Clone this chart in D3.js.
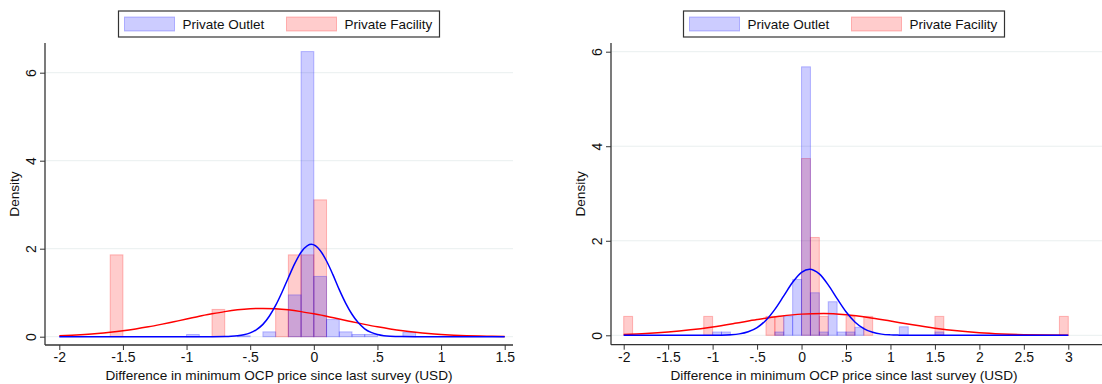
<!DOCTYPE html>
<html>
<head>
<meta charset="utf-8">
<script src="https://cdn.jsdelivr.net/npm/d3@7"></script>
<style>
  body { margin: 0; background: #fff; }
  svg { display: block; font-family: "Liberation Sans", Arial, sans-serif; }
</style>
</head>
<body>
<svg id="chart" width="1102" height="384"></svg>
<script>
// Histograms (bin start, density) with normal overlays, two survey rounds

const binWidth = 0.1;
const seriesNames = ["Private Outlet", "Private Facility"];

// left panel
const leftOutletBins = [[-1.0, 0.05], [-0.6, 0.02], [-0.4, 0.11], [-0.2, 0.95], [-0.1, 6.48],
  [0.0, 1.37], [0.1, 0.39], [0.2, 0.11], [0.3, 0.05], [0.4, 0.05], [0.7, 0.10]];
const leftFacilityBins = [[-1.6, 1.86], [-0.8, 0.62], [-0.3, 0.62], [-0.2, 1.86], [-0.1, 1.86], [0.0, 3.11]];

const leftOutletCurve = [[-2, 0], [-1, 0], [-0.8, 0.001], [-0.7, 0.004], [-0.65, 0.009], [-0.6, 0.02],
  [-0.55, 0.043], [-0.5, 0.086], [-0.45, 0.162], [-0.4, 0.28], [-0.35, 0.465], [-0.3, 0.71],
  [-0.25, 1.01], [-0.2, 1.34], [-0.15, 1.66], [-0.1, 1.92], [-0.05, 2.07], [-0.02, 2.10],
  [0.05, 1.96], [0.1, 1.72], [0.15, 1.41], [0.2, 1.07], [0.25, 0.765], [0.3, 0.51],
  [0.35, 0.315], [0.4, 0.18], [0.45, 0.098], [0.5, 0.05], [0.55, 0.023], [0.6, 0.01],
  [0.7, 0.002], [0.8, 0], [1.5, 0]];
const leftFacilityCurve = [[-2.0, 0.023], [-1.9, 0.034], [-1.8, 0.050], [-1.7, 0.071], [-1.6, 0.099],
  [-1.5, 0.133], [-1.4, 0.175], [-1.3, 0.224], [-1.2, 0.28], [-1.1, 0.34], [-1.0, 0.40],
  [-0.9, 0.465], [-0.8, 0.52], [-0.7, 0.57], [-0.6, 0.61], [-0.5, 0.635], [-0.4, 0.643],
  [-0.3, 0.635], [-0.2, 0.61], [-0.1, 0.57], [0.0, 0.52], [0.1, 0.465], [0.2, 0.40],
  [0.3, 0.34], [0.4, 0.28], [0.5, 0.224], [0.6, 0.175], [0.7, 0.133], [0.8, 0.099],
  [0.9, 0.071], [1.0, 0.050], [1.1, 0.034], [1.2, 0.023], [1.3, 0.015], [1.4, 0.009], [1.5, 0.006]];

const leftXTicks = [-2, -1.5, -1, -0.5, 0, 0.5, 1, 1.5];
const leftXLabels = ["-2", "-1.5", "-1", "-.5", "0", ".5", "1", "1.5"];

// right panel
const rightOutletBins = [[-1.0, 0.07], [-0.9, 0.07], [-0.3, 0.07], [-0.2, 0.41], [-0.1, 1.18],
  [0.0, 5.68], [0.1, 0.90], [0.2, 0.07], [0.3, 0.71], [0.4, 0.07], [0.5, 0.07], [0.6, 0.17],
  [1.1, 0.18], [1.5, 0.07]];
const rightFacilityBins = [[-2.0, 0.40], [-1.1, 0.40], [-0.4, 0.40], [-0.3, 0.40], [0.0, 3.74],
  [0.1, 2.07], [0.2, 0.40], [0.5, 0.40], [0.7, 0.40], [1.5, 0.40], [2.9, 0.40]];

const rightOutletCurve = [[-2, 0], [-1.1, 0], [-1.0, 0.001], [-0.9, 0.003], [-0.8, 0.011], [-0.7, 0.030],
  [-0.6, 0.075], [-0.5, 0.164], [-0.4, 0.319], [-0.3, 0.549], [-0.2, 0.834], [-0.1, 1.121],
  [0.0, 1.332], [0.09, 1.40], [0.2, 1.299], [0.3, 1.067], [0.4, 0.775], [0.5, 0.497],
  [0.6, 0.283], [0.7, 0.142], [0.8, 0.063], [0.9, 0.025], [1.0, 0.009], [1.1, 0.003],
  [1.2, 0], [3, 0]];
const rightFacilityCurve = [[-2.0, 0.019], [-1.75, 0.037], [-1.5, 0.068], [-1.25, 0.115], [-1.0, 0.178],
  [-0.75, 0.253], [-0.5, 0.333], [-0.25, 0.402], [0.0, 0.448], [0.25, 0.459], [0.5, 0.433],
  [0.75, 0.377], [1.0, 0.301], [1.25, 0.222], [1.5, 0.151], [1.75, 0.094], [2.0, 0.054],
  [2.25, 0.029], [2.5, 0.014], [2.75, 0.006], [3.0, 0.003]];

const rightXTicks = [-2, -1.5, -1, -0.5, 0, 0.5, 1, 1.5, 2, 2.5, 3];
const rightXLabels = ["-2", "-1.5", "-1", "-.5", "0", ".5", "1", "1.5", "2", "2.5", "3"];

const yTicks = [0, 2, 4, 6];
const yLabels = ["0", "2", "4", "6"];

const xTitle = "Difference in minimum OCP price since last survey (USD)";
const yTitle = "Density";

const blue = "#0000ff", red = "#ff0000";

const svg = d3.select("#chart");

function drawPanel(p) {
  const g = svg.append("g");
  const x = d3.scaleLinear().domain(p.xDomain).range(p.xRange);
  const y = d3.scaleLinear().domain([0, 6]).range(p.yRange);

  // gridlines
  g.append("g").selectAll("line")
    .data(yTicks)
    .join("line")
    .attr("x1", p.left).attr("x2", p.right)
    .attr("y1", d => y(d)).attr("y2", d => y(d))
    .attr("stroke", "#e9efef")
    .attr("stroke-width", 1);

  // bars: facility first, outlet over it
  const bars = (data, color) => g.append("g").selectAll("rect")
    .data(data)
    .join("rect")
    .attr("x", d => x(d[0]))
    .attr("width", d => x(d[0] + binWidth) - x(d[0]))
    .attr("y", d => y(d[1]))
    .attr("height", d => y(0) - y(d[1]))
    .attr("fill", color)
    .attr("fill-opacity", 0.2)
    .attr("stroke", color)
    .attr("stroke-opacity", 0.25)
    .attr("stroke-width", 1);

  bars(p.facilityBins, red);
  bars(p.outletBins, blue);

  const line = d3.line()
    .x(d => x(d[0]))
    .y(d => y(d[1]))
    .curve(d3.curveMonotoneX);

  g.append("path").datum(p.facilityCurve)
    .attr("fill", "none").attr("stroke", red).attr("stroke-width", 1.5)
    .attr("d", line);
  g.append("path").datum(p.outletCurve)
    .attr("fill", "none").attr("stroke", blue).attr("stroke-width", 1.5)
    .attr("d", line);

  // axes
  const xAxis = g.append("g")
    .attr("transform", `translate(0,${p.bottom})`)
    .call(d3.axisBottom(x).tickValues(p.xTicks)
      .tickFormat((d, i) => p.xLabels[i]).tickSize(5).tickPadding(2));
  xAxis.select(".domain").remove();

  const yAxis = g.append("g")
    .attr("transform", `translate(${p.left},0)`)
    .call(d3.axisLeft(y).tickValues(yTicks)
      .tickFormat((d, i) => yLabels[i]).tickSize(5));
  yAxis.select(".domain").remove();
  yAxis.selectAll("text")
    .attr("transform", "translate(-14,0) rotate(-90)")
    .attr("x", 0).attr("y", 0).attr("dy", "0.35em")
    .attr("text-anchor", "middle");

  [xAxis, yAxis].forEach(a => {
    a.selectAll("line").attr("stroke", "#333");
    a.selectAll("text").attr("fill", "#111").style("font-size", "14px");
  });

  g.append("line")
    .attr("x1", p.left).attr("x2", p.right)
    .attr("y1", p.bottom).attr("y2", p.bottom)
    .attr("stroke", "#333").attr("stroke-width", 1.3);
  g.append("line")
    .attr("x1", p.left).attr("x2", p.left)
    .attr("y1", p.top).attr("y2", p.bottom)
    .attr("stroke", "#333").attr("stroke-width", 1.3);

  // titles
  g.append("text")
    .attr("x", p.center).attr("y", 380)
    .attr("text-anchor", "middle")
    .style("font-size", "13.6px").attr("fill", "#111")
    .text(xTitle);
  g.append("text")
    .attr("transform", `translate(${p.left - 26},${(p.top + p.bottom) / 2}) rotate(-90)`)
    .attr("text-anchor", "middle")
    .style("font-size", "13.6px").attr("fill", "#111")
    .text(yTitle);

  // legend
  const lg = g.append("g").attr("transform", `translate(${p.center - 160.5},11)`);
  lg.append("rect")
    .attr("width", 321).attr("height", 26)
    .attr("fill", "#fff").attr("stroke", "#333").attr("stroke-width", 1.2);
  [blue, red].forEach((c, i) => {
    lg.append("rect")
      .attr("x", 6 + i * 162).attr("y", 6).attr("width", 50).attr("height", 14)
      .attr("fill", c).attr("fill-opacity", 0.2)
      .attr("stroke", c).attr("stroke-opacity", 0.25);
    lg.append("text")
      .attr("x", 64 + i * 162).attr("y", 18)
      .style("font-size", "13.5px").attr("fill", "#111")
      .text(seriesNames[i]);
  });
}

drawPanel({
  xDomain: [-2, 1.5], xRange: [59.3, 504.7], yRange: [336.7, 72.7],
  left: 45, right: 513, top: 43, bottom: 345, center: 279,
  outletBins: leftOutletBins, facilityBins: leftFacilityBins,
  outletCurve: leftOutletCurve, facilityCurve: leftFacilityCurve,
  xTicks: leftXTicks, xLabels: leftXLabels
});

drawPanel({
  xDomain: [-2, 3], xRange: [623.7, 1068.3], yRange: [335.3, 51.7],
  left: 611, right: 1102, top: 43, bottom: 344.7, center: 844,
  outletBins: rightOutletBins, facilityBins: rightFacilityBins,
  outletCurve: rightOutletCurve, facilityCurve: rightFacilityCurve,
  xTicks: rightXTicks, xLabels: rightXLabels
});
</script>
</body>
</html>
